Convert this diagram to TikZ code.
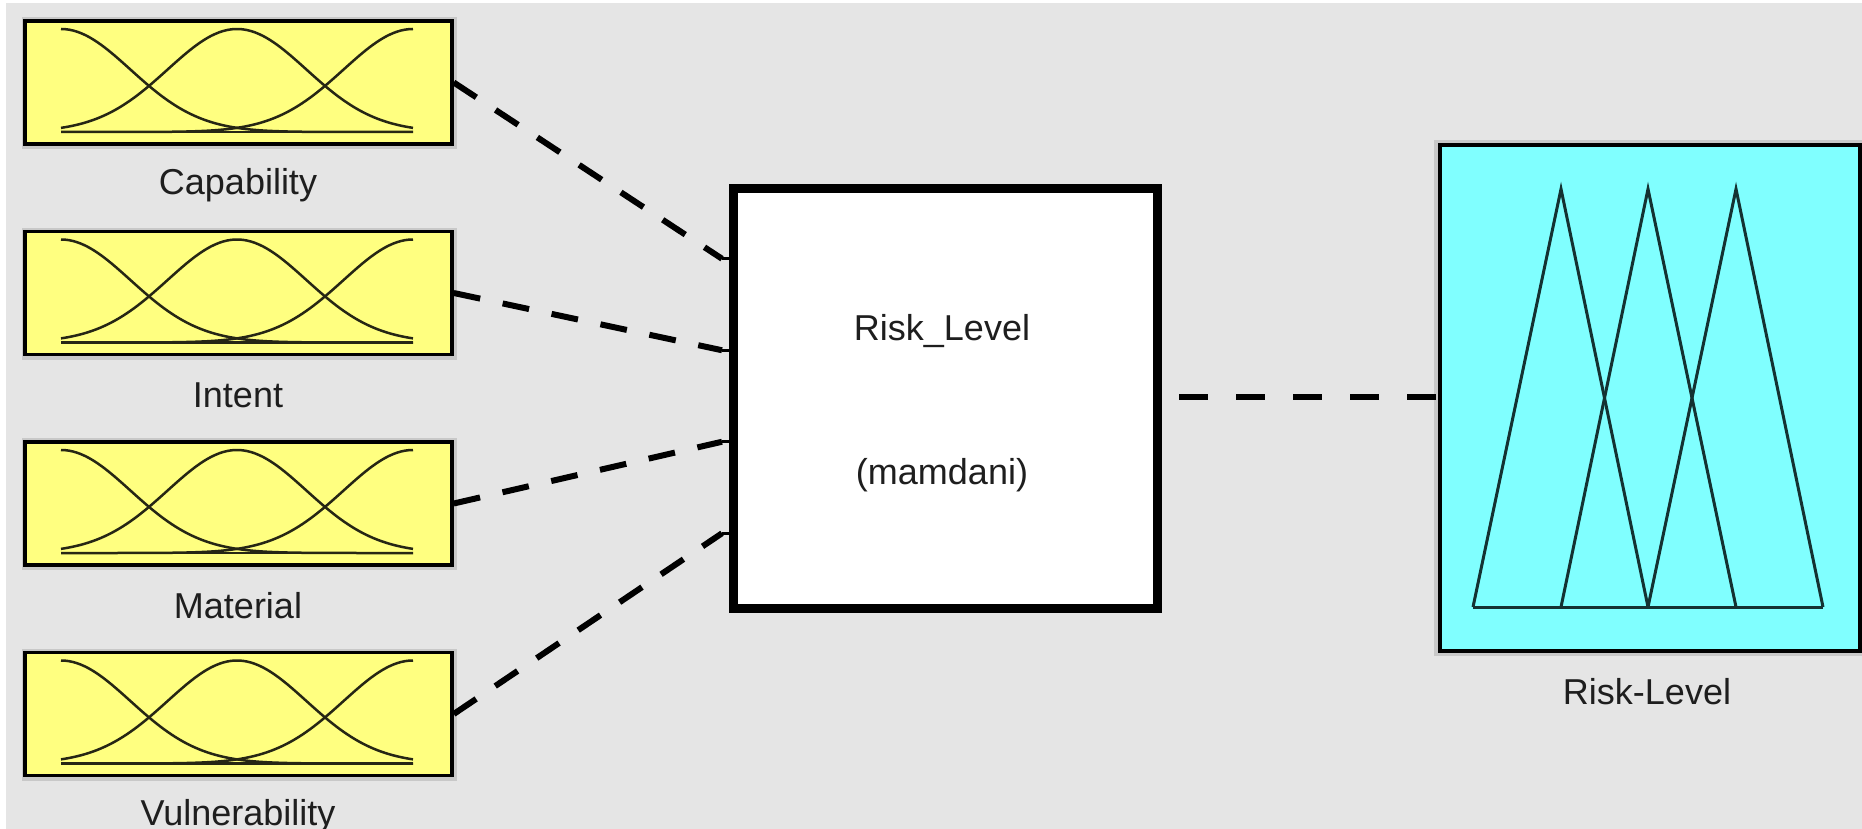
\documentclass[tikz,border=0pt]{standalone}
\usepackage{fontspec}
\setmainfont{Liberation Sans}
\definecolor{bgc}{HTML}{E5E5E5}
\definecolor{yfill}{HTML}{FFFF80}
\definecolor{cfill}{HTML}{80FFFF}
\definecolor{shad}{HTML}{C8C8C8}
\definecolor{txt}{HTML}{1E1E1E}
\definecolor{curvec}{HTML}{262614}
\definecolor{tric}{HTML}{143232}
\begin{document}
\begin{tikzpicture}[x=1pt,y=-1pt,
  mfbox/.style={draw=black, line width=3.5pt, fill=yfill, minimum width=427pt, minimum height=123pt, inner sep=0pt},
  lbl/.style={font=\fontsize{36}{40}\selectfont, text=txt, inner sep=0pt},
  conn/.style={line width=6pt, dash pattern=on 27pt off 23pt},
  curve/.style={line width=2.5pt, draw=curvec},
  tri/.style={line width=3pt, draw=tric, line join=miter},
  porttick/.style={line width=3pt}]
\useasboundingbox (0,0) rectangle (1862,829);
\fill[white] (0,0) rectangle (1862,829);
\fill[bgc] (6,3) rectangle (1862,829);

% input membership-function boxes
\foreach \i/\nm/\lab in {0/cap/Capability,1/int/Intent,2/mat/Material,3/vul/Vulnerability}{
  \pgfmathsetmacro{\ty}{21+210.5*\i}
  \fill[shad] (22,\ty-4) rectangle (457,\ty+128);
  \node[mfbox] (\nm) at (238.5,\ty+61.5) {};
  \foreach \c in {61,237,413}{
    \draw[curve] plot[domain=61:413,samples=90,smooth] (\x,{\ty+111-103*exp(-0.5*((\x-\c)/69.4)^2)});
  }
  \draw[curve] (61,\ty+111) -- (413,\ty+111);
  \node[lbl] (\nm lab) at (238,\ty+164) {\lab};
}

% central FIS box
\node[draw=black, line width=9pt, fill=white, minimum width=424pt, minimum height=420pt, inner sep=0pt] (rl) at (945.5,398.5) {};
\node[lbl] (rltxt) at (942,331) {Risk\_Level};
\node[lbl] (rltype) at (942,475) {(mamdani)};

% ports on the central box
\foreach \i in {0,1,2,3}{
  \coordinate (p\i) at (722,258.75+91.5*\i);
  \draw[porttick] (p\i) -- (p\i -| rl.west);
}

% connectors in
\draw[conn] (cap.east) -- (p0);
\draw[conn] (int.east) -- (p1);
\draw[conn] (mat.east) -- (p2);
\draw[conn] (vul.east) -- (p3);

% output box
\fill[shad] (1434,140) rectangle (1862,656);
\node[draw=black, line width=4pt, fill=cfill, minimum width=420pt, minimum height=506pt, inner sep=0pt] (out) at (1649.5,398) {};
\draw[tri] (1473,607) -- (1561,189) -- (1648,607);
\draw[tri] (1561,607) -- (1648,189) -- (1736,607);
\draw[tri] (1648,607) -- (1736,189) -- (1823,607);
\draw[tri] (1473,607) -- (1823,607);
\node[lbl] (outlab) at (1647,692) {Risk-Level};

% connector out
\draw[conn, dash pattern=on 28.5pt off 28.5pt, dash phase=40pt] (rl.east |- 0,396.5) -- (out.west |- 0,396.5);
\end{tikzpicture}
\end{document}
